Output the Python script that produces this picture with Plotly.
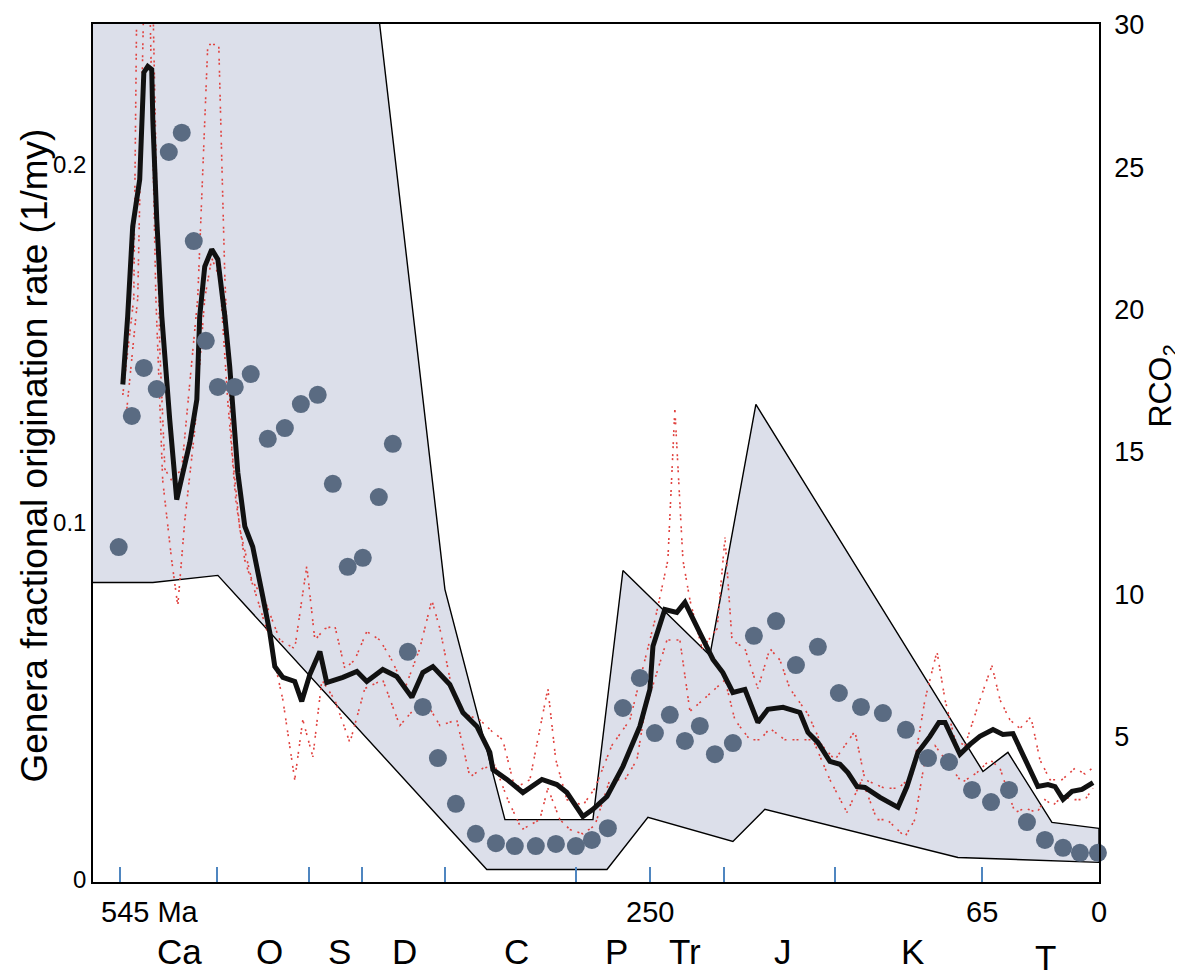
import plotly.graph_objects as go

# ---------------- data ----------------
# Geological period boundaries (Ma) and labels
period_bounds = [545, 491, 440, 410, 364, 291, 250, 209, 147, 65, 0]
period_names = ["Ca", "O", "S", "D", "C", "P", "Tr", "J", "K", "T"]
period_mid = [511.7, 461.6, 422.6, 386.4, 324.0, 268.4, 230.5, 176.0, 104.0, 30.0]
age_labels_t = [545, 250, 65, 0]
age_labels = ["545 Ma", "250", "65", "0"]

# RCO2 envelope (shaded band)
env_upper_t = [560, 545, 402.6, 364.1, 330.7, 281.7, 265.0, 216.6, 191.0, 64.6, 50.7, 26.2, 0]
env_upper_v = [32, 32, 31.2, 10.18, 2.1, 2.1, 10.84, 7.86, 16.67, 3.79, 4.46, 2.0, 1.79]
env_lower_t = [560, 526.7, 490.5, 340.8, 273.9, 251.1, 203.8, 186.0, 78.5, 0]
env_lower_v = [10.42, 10.42, 10.67, 0.35, 0.35, 2.18, 1.33, 2.46, 0.77, 0.6]

# RCO2 (black line)
rco2_t = [543.4, 540.7, 537.9, 534.0, 531.7, 529.5, 527.3, 526.7, 524.5, 521.7, 517.3, 513.4,
          506.1, 502.2, 500.6, 497.8, 493.9, 490.5, 486.6, 483.9, 481.1, 479.4, 475.5, 471.1,
          465.5, 461.6, 458.8, 454.3, 447.7, 443.8, 439.3, 433.7, 429.9, 420.9, 413.1, 407.6,
          398.7, 390.9, 382.5, 376.4, 370.8, 361.4, 354.1, 346.3, 339.1, 337.4, 329.6, 320.7,
          310.1, 301.8, 296.2, 287.3, 281.7, 273.9, 265.0, 255.6, 250.0, 248.3, 241.7, 235.0,
          230.5, 223.8, 214.9, 209.4, 203.8, 197.1, 189.9, 184.3, 175.9, 166.5, 162.0, 156.5,
          149.8, 144.2, 139.8, 134.7, 130.3, 121.9, 111.9, 106.9, 100.8, 94.1, 89.1, 85.7,
          77.4, 71.8, 66.3, 59.0, 53.5, 47.9, 40.1, 34.0, 28.4, 24.5, 20.0, 15.0, 9.5, 3.3]
rco2_v = [17.37, 19.76, 22.91, 24.56, 28.32, 28.53, 28.42, 26.67, 23.16, 19.76, 16.14, 13.33,
          15.33, 16.84, 19.76, 21.51, 22.11, 21.76, 19.76, 18.00, 15.69, 14.28, 12.39, 11.68,
          9.93, 8.67, 7.47, 7.09, 6.95, 6.25, 7.19, 8.00, 6.91, 7.09, 7.30, 6.95,
          7.37, 7.12, 6.39, 7.26, 7.47, 6.84, 5.86, 5.37, 4.46, 3.86, 3.51, 3.05,
          3.51, 3.33, 3.05, 2.21, 2.46, 2.91, 3.97, 5.37, 6.67, 8.18, 9.47, 9.37,
          9.72, 8.88, 7.72, 7.26, 6.56, 6.67, 5.51, 5.97, 6.04, 5.86, 5.16, 4.81,
          4.14, 4.04, 3.75, 3.26, 3.23, 2.88, 2.53, 3.26, 4.46, 5.02, 5.51, 5.51,
          4.39, 4.74, 5.02, 5.26, 5.09, 5.12, 4.11, 3.26, 3.33, 3.26, 2.81, 3.09, 3.16, 3.40]

# RCO2 error range (red dotted lines)
hi_t = [543.4, 537.3, 535.6, 526.7, 525.0, 522.8, 520.0, 516.2, 510.6, 506.1, 501.7, 496.1,
        490.0, 486.6, 482.7, 478.3, 471.6, 464.4, 456.0, 447.7, 441.0, 436.5, 431.0, 425.4,
        419.8, 414.3, 407.6, 400.3, 393.7, 386.4, 378.1, 371.4, 366.9, 360.2, 353.0, 344.7,
        338.0, 331.9, 325.2, 316.8, 306.8, 302.4, 296.2, 287.3, 280.6, 271.2, 261.1, 252.8,
        247.2, 240.0, 236.1, 231.6, 227.7, 221.0, 212.6, 208.2, 204.3, 197.1, 189.9, 183.2,
        177.6, 172.1, 162.0, 154.2, 147.0, 135.9, 130.3, 119.2, 111.9, 104.1, 96.9, 90.2,
        85.7, 80.2, 74.6, 66.3, 59.6, 55.1, 49.6, 44.0, 37.9, 32.9, 27.3, 20.6, 13.4, 7.8, 3.9]
hi_v = [17.0, 20.4, 31.0, 31.0, 25.6, 18.6, 14.4, 14.0, 14.4, 17.5, 20.4, 29.3,
        29.3, 21.1, 15.1, 12.3, 10.5, 9.8, 8.4, 8.1, 11.0, 8.4, 8.8, 8.9,
        7.4, 7.7, 8.7, 8.4, 7.7, 6.7, 8.1, 9.8, 8.8, 6.7, 5.8, 5.6,
        5.2, 4.9, 3.2, 3.5, 6.7, 4.2, 2.8, 2.6, 3.2, 4.7, 5.6, 7.7,
        9.1, 11.2, 16.5, 11.2, 9.8, 8.1, 8.8, 12.0, 8.4, 8.1, 6.7, 8.1,
        7.7, 6.7, 5.8, 4.7, 4.2, 5.2, 3.5, 3.2, 3.2, 3.6, 6.3, 8.0,
        6.3, 4.9, 4.7, 6.3, 7.5, 6.3, 5.6, 5.3, 5.7, 4.2, 3.5, 3.5, 3.9, 3.7, 3.9]
lo_t = [541.8, 535.1, 531.7, 528.4, 525.0, 521.2, 516.2, 512.8, 508.9, 503.3, 497.8, 493.9,
        489.4, 485.0, 480.5, 475.5, 468.3, 461.6, 454.3, 447.7, 443.2, 437.6, 432.6, 425.4,
        417.0, 408.7, 398.7, 389.2, 380.9, 375.3, 366.9, 357.5, 350.2, 343.0, 336.3, 329.1,
        321.3, 311.3, 306.8, 300.1, 294.5, 287.3, 280.6, 272.3, 263.9, 257.2, 252.8, 247.2,
        240.5, 233.3, 227.7, 220.5, 213.8, 208.2, 202.7, 194.3, 188.8, 183.2, 174.8, 166.5,
        159.2, 149.8, 140.3, 132.0, 123.6, 118.0, 108.0, 102.5, 96.9, 91.3, 85.7, 76.3,
        67.9, 60.7, 55.1, 46.8, 41.2, 34.5, 30.1, 25.6, 20.6, 13.4, 7.8, 3.3]
lo_v = [16.1, 20.4, 31.0, 31.0, 20.4, 14.0, 11.2, 9.6, 12.6, 15.8, 20.4, 21.8,
        21.1, 16.8, 13.3, 11.2, 9.8, 8.4, 6.3, 3.5, 5.6, 4.3, 7.0, 6.3,
        4.8, 6.7, 7.0, 5.4, 6.0, 6.3, 5.4, 5.6, 3.6, 3.9, 4.0, 2.8,
        1.75, 2.1, 3.2, 2.1, 1.75, 1.6, 1.9, 3.5, 3.5, 4.2, 5.9, 7.0,
        8.4, 8.4, 5.9, 6.3, 6.7, 7.0, 5.6, 4.9, 4.9, 5.3, 4.9, 4.9,
        4.9, 3.5, 2.35, 3.5, 2.1, 2.1, 1.5, 2.1, 4.2, 4.7, 4.2, 3.4,
        3.75, 4.2, 3.9, 2.35, 2.5, 2.35, 2.8, 2.6, 2.9, 2.8, 2.8, 3.2]

# Genera fractional origination rate (1/my)
orig_t = [545.7, 538.4, 531.7, 524.5, 517.8, 510.6, 503.9, 497.2, 490.5, 481.1, 472.2, 462.7,
          453.2, 444.3, 434.9, 426.5, 418.2, 409.8, 400.9, 393.1, 384.7, 376.4, 368.0, 358.0,
          346.9, 335.7, 325.2, 313.5, 302.3, 291.2, 282.3, 273.4, 265.0, 255.6, 247.2, 238.9,
          230.5, 222.2, 213.8, 203.8, 192.1, 179.8, 168.7, 156.5, 144.8, 132.5, 120.3, 107.5,
          95.2, 83.5, 70.7, 60.1, 50.1, 40.1, 30.1, 20.0, 10.6, 0.6]
orig_v = [0.0931, 0.1298, 0.1432, 0.1373, 0.2036, 0.2090, 0.1787, 0.1508, 0.1379, 0.1379, 0.1415, 0.1234,
          0.1264, 0.1331, 0.1357, 0.1108, 0.0876, 0.0901, 0.1071, 0.1220, 0.0638, 0.0484, 0.0341, 0.0213,
          0.0129, 0.0103, 0.0095, 0.0095, 0.0101, 0.0095, 0.0112, 0.0145, 0.0481, 0.0565, 0.0411, 0.0462,
          0.0389, 0.0431, 0.0352, 0.0383, 0.0683, 0.0724, 0.0601, 0.0652, 0.0523, 0.0484, 0.0467, 0.0420,
          0.0341, 0.0330, 0.0252, 0.0218, 0.0252, 0.0162, 0.0112, 0.0090, 0.0076, 0.0076]

# ---------------- figure ----------------
FONT = "Liberation Sans, Arial, Helvetica, sans-serif"
fig = go.Figure()

# shaded envelope (polygon from upper and reversed lower boundary)
fig.add_trace(go.Scatter(
    x=env_upper_t + env_lower_t[::-1], y=env_upper_v + env_lower_v[::-1],
    mode="lines", fill="toself", fillcolor="#dcdfea",
    line=dict(color="black", width=1.4), yaxis="y", hoverinfo="skip"))

for tt, vv in ((hi_t, hi_v), (lo_t, lo_v)):
    fig.add_trace(go.Scatter(x=tt, y=vv, mode="lines",
                             line=dict(color="#e0423f", width=1.6,
                                       dash="2px,2px,2px,6px"),
                             yaxis="y"))

fig.add_trace(go.Scatter(x=rco2_t, y=rco2_v, mode="lines",
                         line=dict(color="#111111", width=5), yaxis="y"))

fig.add_trace(go.Scatter(x=orig_t, y=orig_v, mode="markers",
                         marker=dict(size=18, color="#5a6b82"),
                         yaxis="y2", cliponaxis=False))

ann = []
for t, s in zip(age_labels_t, age_labels):
    if s.endswith("Ma"):
        ann.append(dict(x=t, y=-0.035, xref="x", yref="paper", text=s, showarrow=False,
                        xanchor="left", yanchor="middle", xshift=-21, font=dict(size=29)))
    else:
        ann.append(dict(x=t, y=-0.035, xref="x", yref="paper", text=s, showarrow=False,
                        xanchor="center", yanchor="middle", font=dict(size=29)))
for t, s in zip(period_mid, period_names):
    ann.append(dict(x=t, y=-0.088 if s == "T" else -0.081, xref="x", yref="paper", text=s,
                    showarrow=False, xanchor="center", yanchor="middle", font=dict(size=35)))
ann.append(dict(x=-0.0577, y=0.497, xref="paper", yref="paper",
                text="Genera fractional origination rate (1/my)", textangle=-90,
                showarrow=False, xanchor="center", yanchor="middle", font=dict(size=37)))
ann.append(dict(x=1.063, y=0.579, xref="paper", yref="paper",
                text="RCO<sub>2</sub>", textangle=-90,
                showarrow=False, xanchor="center", yanchor="middle", font=dict(size=32)))

# The page body adds an 8 px offset, so the figure is sized to fit the 1183x972 window.
fig.update_layout(
    width=1175, height=964,
    margin=dict(l=85, r=84, t=16, b=90, autoexpand=False),
    paper_bgcolor="white", plot_bgcolor="white", showlegend=False,
    font=dict(family=FONT, color="black"),
    annotations=ann,
    xaxis=dict(range=[560, 0], tickvals=period_bounds, ticks="inside", ticklen=15,
               tickcolor="#4f86c0", tickwidth=1.5, showticklabels=False,
               showline=True, linecolor="black", linewidth=1.5, mirror=True,
               showgrid=False, zeroline=False, automargin=False),
    yaxis=dict(range=[-0.09, 30.02], side="right", tickvals=[5, 10, 15, 20, 25, 30],
               ticks="", showline=True, linecolor="black", linewidth=1.5,
               showgrid=False, zeroline=False, tickfont=dict(size=27),
               ticklabelstandoff=8, automargin=False),
    yaxis2=dict(range=[-0.00056, 0.2394], side="left", overlaying="y",
                tickvals=[0, 0.1, 0.2], ticktext=["0", "0.1", "0.2"], ticks="",
                showline=True, linecolor="black", linewidth=1.5,
                showgrid=False, zeroline=False, tickfont=dict(size=24),
                automargin=False),
)

fig.write_html("out.html")
